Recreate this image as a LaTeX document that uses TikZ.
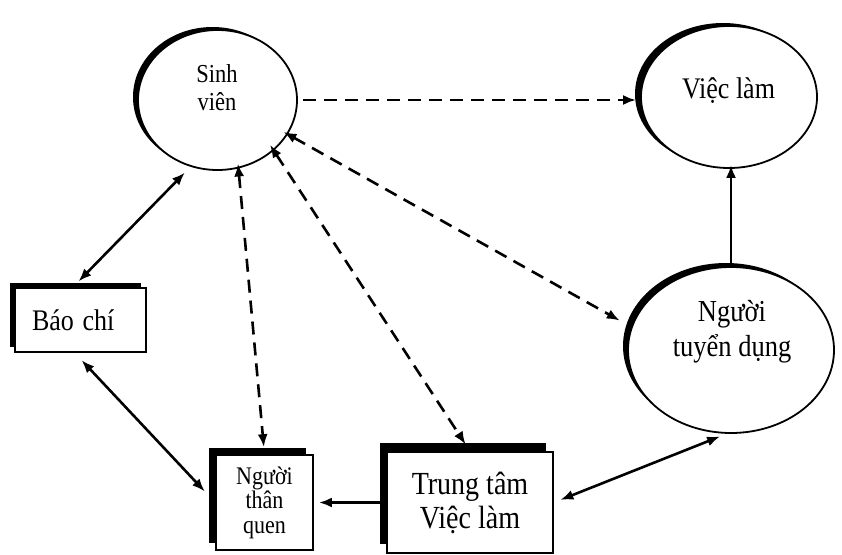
\documentclass[tikz,border=0pt]{standalone}
\usepackage{fontspec}
\usepackage{graphicx}
\setmainfont{Liberation Serif}
\usetikzlibrary{shapes.geometric,arrows.meta,shadows,calc}
\newcommand{\vtx}[1]{\scalebox{1}[1.15]{#1}}
\begin{document}
\begin{tikzpicture}[x=1pt,y=-1pt,
  ell/.style={ellipse, draw, line width=1.8pt, fill=white, inner sep=0pt},
  box/.style={rectangle, draw, line width=1.7pt, fill=white, inner sep=0pt, align=center},
  sh/.style 2 args={drop shadow={shadow xshift=-#1, shadow yshift=#2, fill=black, opacity=1}},
  lbl/.style={inner sep=0pt, align=center},
  tipd/.tip={Latex[length=13pt,width=10pt]},
  dl/.style={line width=2.6pt, dash pattern=on 13pt off 8pt},
  sl/.style={line width=2.6pt},
]
\useasboundingbox (0,0) rectangle (842,554);

% ellipses
\node[ell, sh={5pt}{3pt}, minimum width=159pt, minimum height=140pt] (sv) at (217.5,100) {};
\node[lbl, font=\fontsize{22.5}{28}\selectfont] (svt) at (217,88) {\vtx{Sinh}\\\vtx{viên}};

\node[ell, sh={6pt}{3pt}, minimum width=176pt, minimum height=142pt] (vl) at (729,97) {};
\node[lbl, font=\fontsize{26}{30}\selectfont] (vlt) at (728.5,91) {\vtx{Việc làm}};

\node[ell, sh={5pt}{4pt}, minimum width=206pt, minimum height=166pt] (ntd) at (731,350) {};
\node[lbl, font=\fontsize{26.5}{35}\selectfont] (ntdt) at (732,332) {\vtx{Người}\\\vtx{tuyển dụng}};

% boxes
\node[box, sh={5pt}{5pt}, minimum width=131pt, minimum height=64pt, text width=97pt, align=left, inner xsep=17pt,
  font=\fontsize{26}{30}\selectfont] (bc) at (80.5,320) {\vtx{Báo chí}};
\node[box, sh={7pt}{7pt}, minimum width=97pt, minimum height=95pt,
  font=\fontsize{22}{24.5}\selectfont] (ntq) at (264.5,502.5) {\vtx{Người}\\\vtx{thân}\\\vtx{quen}};
\node[box, sh={7pt}{9pt}, minimum width=166pt, minimum height=101pt,
  font=\fontsize{28}{34}\selectfont] (tt) at (470,502.5) {\vtx{Trung tâm}\\\vtx{Việc làm}};

% dashed connectors
\draw[dl, -{tipd}, shorten <=5pt, shorten >=4pt] (sv.east) -- (sv.east -| vl.west);
\draw[dl, {tipd}-{tipd}, shorten <=-5pt, shorten >=13pt] (sv.-26) -- (ntd.167);
\draw[dl, {tipd}-{tipd}, shorten <=-7pt, shorten >=8pt] (sv.-42) -- (tt.north);
\draw[dl, {tipd}-{tipd}, shorten <=-5pt, shorten >=7pt] (sv.-73) -- (ntq.north);

% solid connectors
\draw[sl, {tipd}-{tipd}, shorten <=8pt, shorten >=8pt] (sv.-112) -- (bc.103);
\draw[sl, {tipd}-{tipd}, shorten <=10pt, shorten >=15pt] (bc.-100) -- (ntq.west);
\draw[sl, -{tipd}, shorten >=5pt] (tt.west) -- (ntq.east);
\draw[sl, {tipd}-{tipd}, shorten <=7pt, shorten >=7pt] (tt.east) -- (ntd.-93);
\draw[sl, -{tipd}, shorten >=-4pt] (ntd.north) -- (ntd.north |- vl.south);
\end{tikzpicture}
\end{document}
